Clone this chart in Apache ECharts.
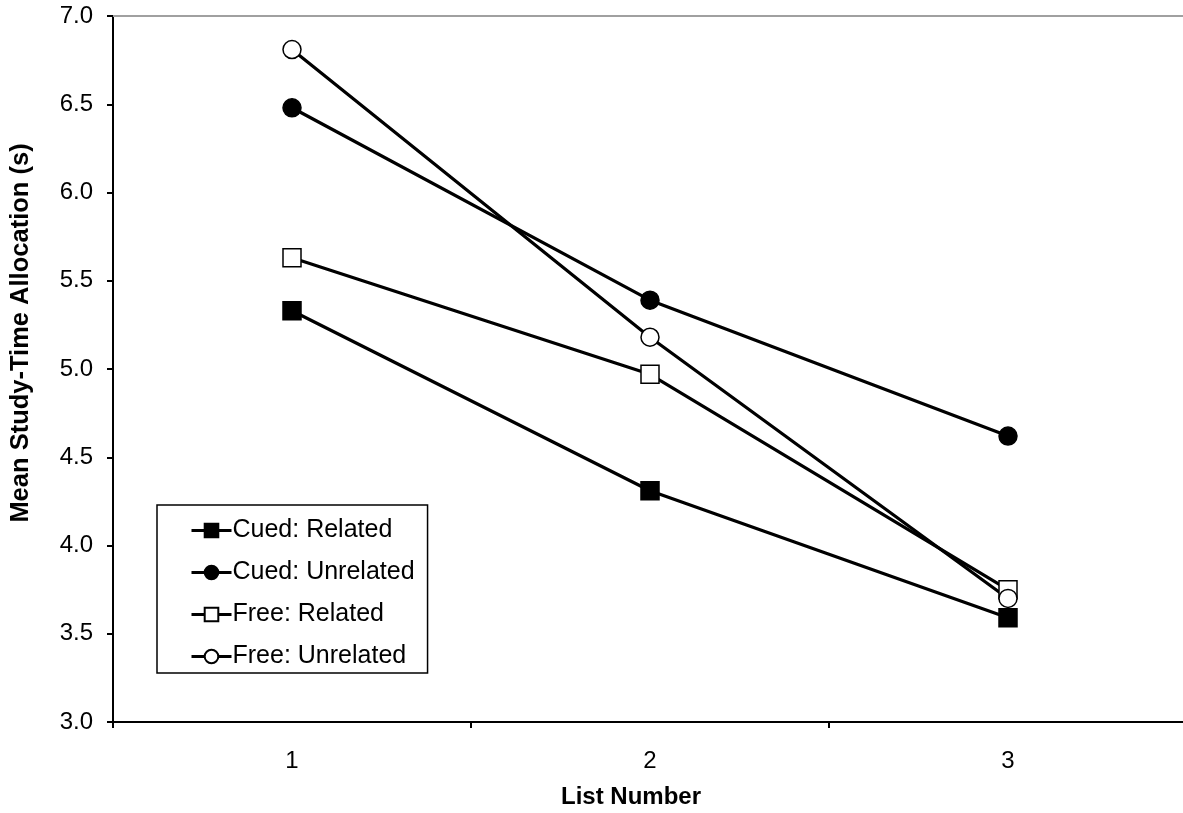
<!DOCTYPE html>
<html>
<head>
<meta charset="utf-8">
<script src="https://cdn.jsdelivr.net/npm/echarts@6/dist/echarts.min.js"></script>
<style>html,body{margin:0;padding:0;background:#fff}#c{width:1183px;height:813px}</style>
</head>
<body>
<div id="c"></div>
<script>
const categories = ['1', '2', '3'];
const cuedRelated = [5.33, 4.31, 3.59];
const cuedUnrelated = [6.48, 5.39, 4.62];
const freeRelated = [5.63, 4.97, 3.75];
const freeUnrelated = [6.81, 5.18, 3.70];
const seriesNames = ['Cued: Related', 'Cued: Unrelated', 'Free: Related', 'Free: Unrelated'];

const FONT = '"Liberation Sans", Arial, sans-serif';
function mk(name, data, symbol, filled) {
  return {
    name: name, type: 'line', data: data, symbol: symbol, symbolSize: 18,
    showAllSymbol: true,
    lineStyle: { color: '#000', width: 3.2 },
    itemStyle: { color: filled ? '#000' : '#fff', borderColor: '#000', borderWidth: 1.5 },
    emphasis: { disabled: true },
    animation: false
  };
}
const chart = echarts.init(document.getElementById('c'));
chart.setOption({
  backgroundColor: '#fff',
  animation: false,
  grid: { left: 113, top: 16, width: 1074, height: 706, containLabel: false, outerBoundsMode: 'none' },
  legend: {
    left: 157, top: 505,
    orient: 'vertical',
    data: seriesNames,
    itemWidth: 40, itemHeight: 17, itemGap: 17,
    padding: [13, 13, 4, 33],
    borderColor: '#000', borderWidth: 1.5,
    lineStyle: { width: 3 },
    textStyle: { fontFamily: FONT, fontSize: 25, color: '#000', padding: [0,0,0,-4] }
  },
  xAxis: [{
    type: 'category', data: categories, boundaryGap: true,
    name: 'List Number', nameLocation: 'middle', nameGap: 63,
    nameTextStyle: { fontFamily: FONT, fontSize: 24, fontWeight: 'bold', color: '#000', padding: [0, 38, 0, 0] },
    axisLine: { lineStyle: { color: '#000', width: 2 } },
    axisTick: { show: true, length: 6, lineStyle: { color: '#000', width: 2 } },
    axisLabel: { fontFamily: FONT, fontSize: 24, color: '#000', margin: 27 }
  }, {
    type: 'category', data: categories, position: 'top',
    axisLine: { lineStyle: { color: '#a0a0a0', width: 2 } },
    axisTick: { show: false }, axisLabel: { show: false }
  }],
  yAxis: {
    type: 'value', min: 3.0, max: 7.0, interval: 0.5,
    name: 'Mean Study-Time Allocation (s)', nameLocation: 'middle', nameGap: 79,
    nameTextStyle: { fontFamily: FONT, fontSize: 25.5, fontWeight: 'bold', color: '#000', padding: [0, 0, 0, 72] },
    axisLine: { show: true, lineStyle: { color: '#000', width: 2 } },
    axisTick: { show: true, length: 6, lineStyle: { color: '#000', width: 2 } },
    axisLabel: { fontFamily: FONT, fontSize: 24, color: '#000', margin: 20,
      formatter: v => v.toFixed(1) },
    splitLine: { show: false }
  },
  series: [
    mk(seriesNames[0], cuedRelated, 'rect', true),
    mk(seriesNames[1], cuedUnrelated, 'circle', true),
    mk(seriesNames[2], freeRelated, 'rect', false),
    mk(seriesNames[3], freeUnrelated, 'circle', false)
  ]
});
</script>
</body>
</html>
